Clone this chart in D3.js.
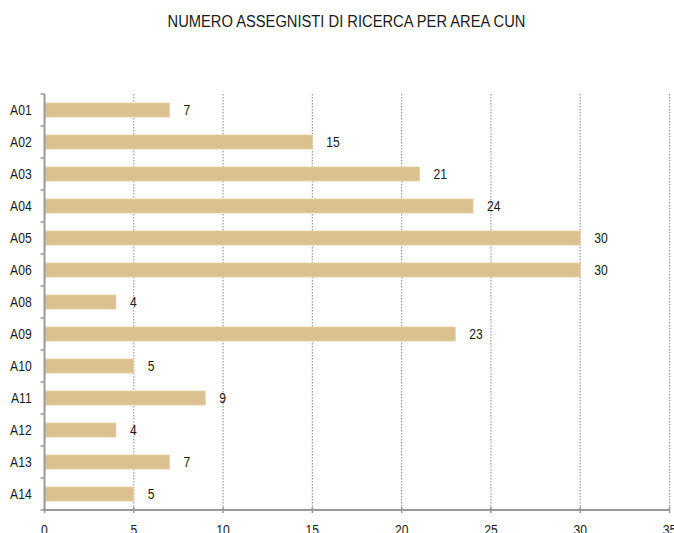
<!DOCTYPE html>
<html>
<head>
<meta charset="utf-8">
<script src="https://cdn.jsdelivr.net/npm/d3@7"></script>
<style>
  html, body { margin: 0; padding: 0; background: #fff; }
  svg text { font-family: "Liberation Sans", Arial, sans-serif; fill: #1a1a1a; }
</style>
</head>
<body>
<svg id="chart" width="674" height="533"></svg>
<script>
// Areas CUN and number of research fellows in each
const areas = ["A01", "A02", "A03", "A04", "A05", "A06", "A08", "A09", "A10", "A11", "A12", "A13", "A14"];
const fellows = [7, 15, 21, 24, 30, 30, 4, 23, 5, 9, 4, 7, 5];
const xTicks = [0, 5, 10, 15, 20, 25, 30, 35];
const title = "NUMERO ASSEGNISTI DI RICERCA PER AREA CUN";

const data = areas.map((a, i) => ({ area: a, value: fellows[i] }));

const svg = d3.select("#chart");
const plotTop = 94, plotBottom = 510, plotLeft = 44.5, plotRight = 669.5;
// narrow lettering: horizontal squeeze applied to every label
const squeeze = 0.82;
const labelSize = "14.8px";

const x = d3.scaleLinear().domain([0, 35]).range([plotLeft, plotRight]);
const y = d3.scaleBand().domain(areas).range([plotTop, plotBottom]).paddingInner(0.56).paddingOuter(0.28);
const yStep = d3.scaleBand().domain(areas).range([plotTop, plotBottom]);

function narrowText(sel, tx, ty, k) {
  return sel.attr("transform", (d, i) => `translate(${tx(d, i)},${ty(d, i)}) scale(${k},1)`);
}

// title
svg.append("text")
  .attr("transform", "translate(346.5,27.3) scale(0.92,1)")
  .attr("text-anchor", "middle")
  .style("font-size", "16px")
  .text(title);

// dotted vertical grid
svg.append("g").selectAll("line")
  .data(xTicks.filter(d => d > 0))
  .join("line")
  .attr("x1", d => x(d)).attr("x2", d => x(d))
  .attr("y1", plotTop).attr("y2", plotBottom)
  .attr("stroke", "#9a9a9a")
  .attr("stroke-width", 1.2)
  .attr("stroke-dasharray", "1.5,1.5");

// bars
svg.append("g").selectAll("rect")
  .data(data)
  .join("rect")
  .attr("x", x(0))
  .attr("y", d => y(d.area))
  .attr("width", d => x(d.value) - x(0))
  .attr("height", y.bandwidth())
  .attr("fill", "#dcc190")
  .attr("stroke", "#e6d2ac")
  .attr("stroke-width", 0.8);

// value labels
svg.append("g").selectAll("text")
  .data(data)
  .join("text")
  .call(narrowText, d => x(d.value) + 14, d => y(d.area) + y.bandwidth() / 2, squeeze)
  .attr("dy", "0.37em")
  .style("font-size", labelSize)
  .text(d => d.value);

// y axis
const yAxis = svg.append("g").attr("transform", `translate(${plotLeft},0)`);
yAxis.append("line")
  .attr("x1", 0).attr("x2", 0).attr("y1", plotTop).attr("y2", plotBottom)
  .attr("stroke", "#999").attr("stroke-width", 2);
yAxis.selectAll("line.tick")
  .data(areas.concat(["end"]))
  .join("line")
  .attr("class", "tick")
  .attr("x1", -4).attr("x2", 0)
  .attr("y1", d => d === "end" ? plotBottom : yStep(d))
  .attr("y2", d => d === "end" ? plotBottom : yStep(d))
  .attr("stroke", "#999").attr("stroke-width", 1.5);
yAxis.selectAll("text")
  .data(areas)
  .join("text")
  .call(narrowText, () => -12.8, d => yStep(d) + yStep.bandwidth() / 2, squeeze)
  .attr("dy", "0.37em")
  .attr("text-anchor", "end")
  .style("font-size", labelSize)
  .text(d => d);

// x axis
const xAxis = svg.append("g").attr("transform", `translate(0,${plotBottom})`);
xAxis.append("line")
  .attr("x1", plotLeft).attr("x2", x(35))
  .attr("y1", 0).attr("y2", 0)
  .attr("stroke", "#999").attr("stroke-width", 2);
xAxis.selectAll("line.tick")
  .data(xTicks)
  .join("line")
  .attr("class", "tick")
  .attr("x1", d => x(d)).attr("x2", d => x(d))
  .attr("y1", -3).attr("y2", 3)
  .attr("stroke", "#999").attr("stroke-width", 1.5);
xAxis.selectAll("text")
  .data(xTicks)
  .join("text")
  .call(narrowText, d => x(d), () => 24.8, squeeze)
  .attr("text-anchor", "middle")
  .style("font-size", labelSize)
  .text(d => d);
</script>
</body>
</html>
